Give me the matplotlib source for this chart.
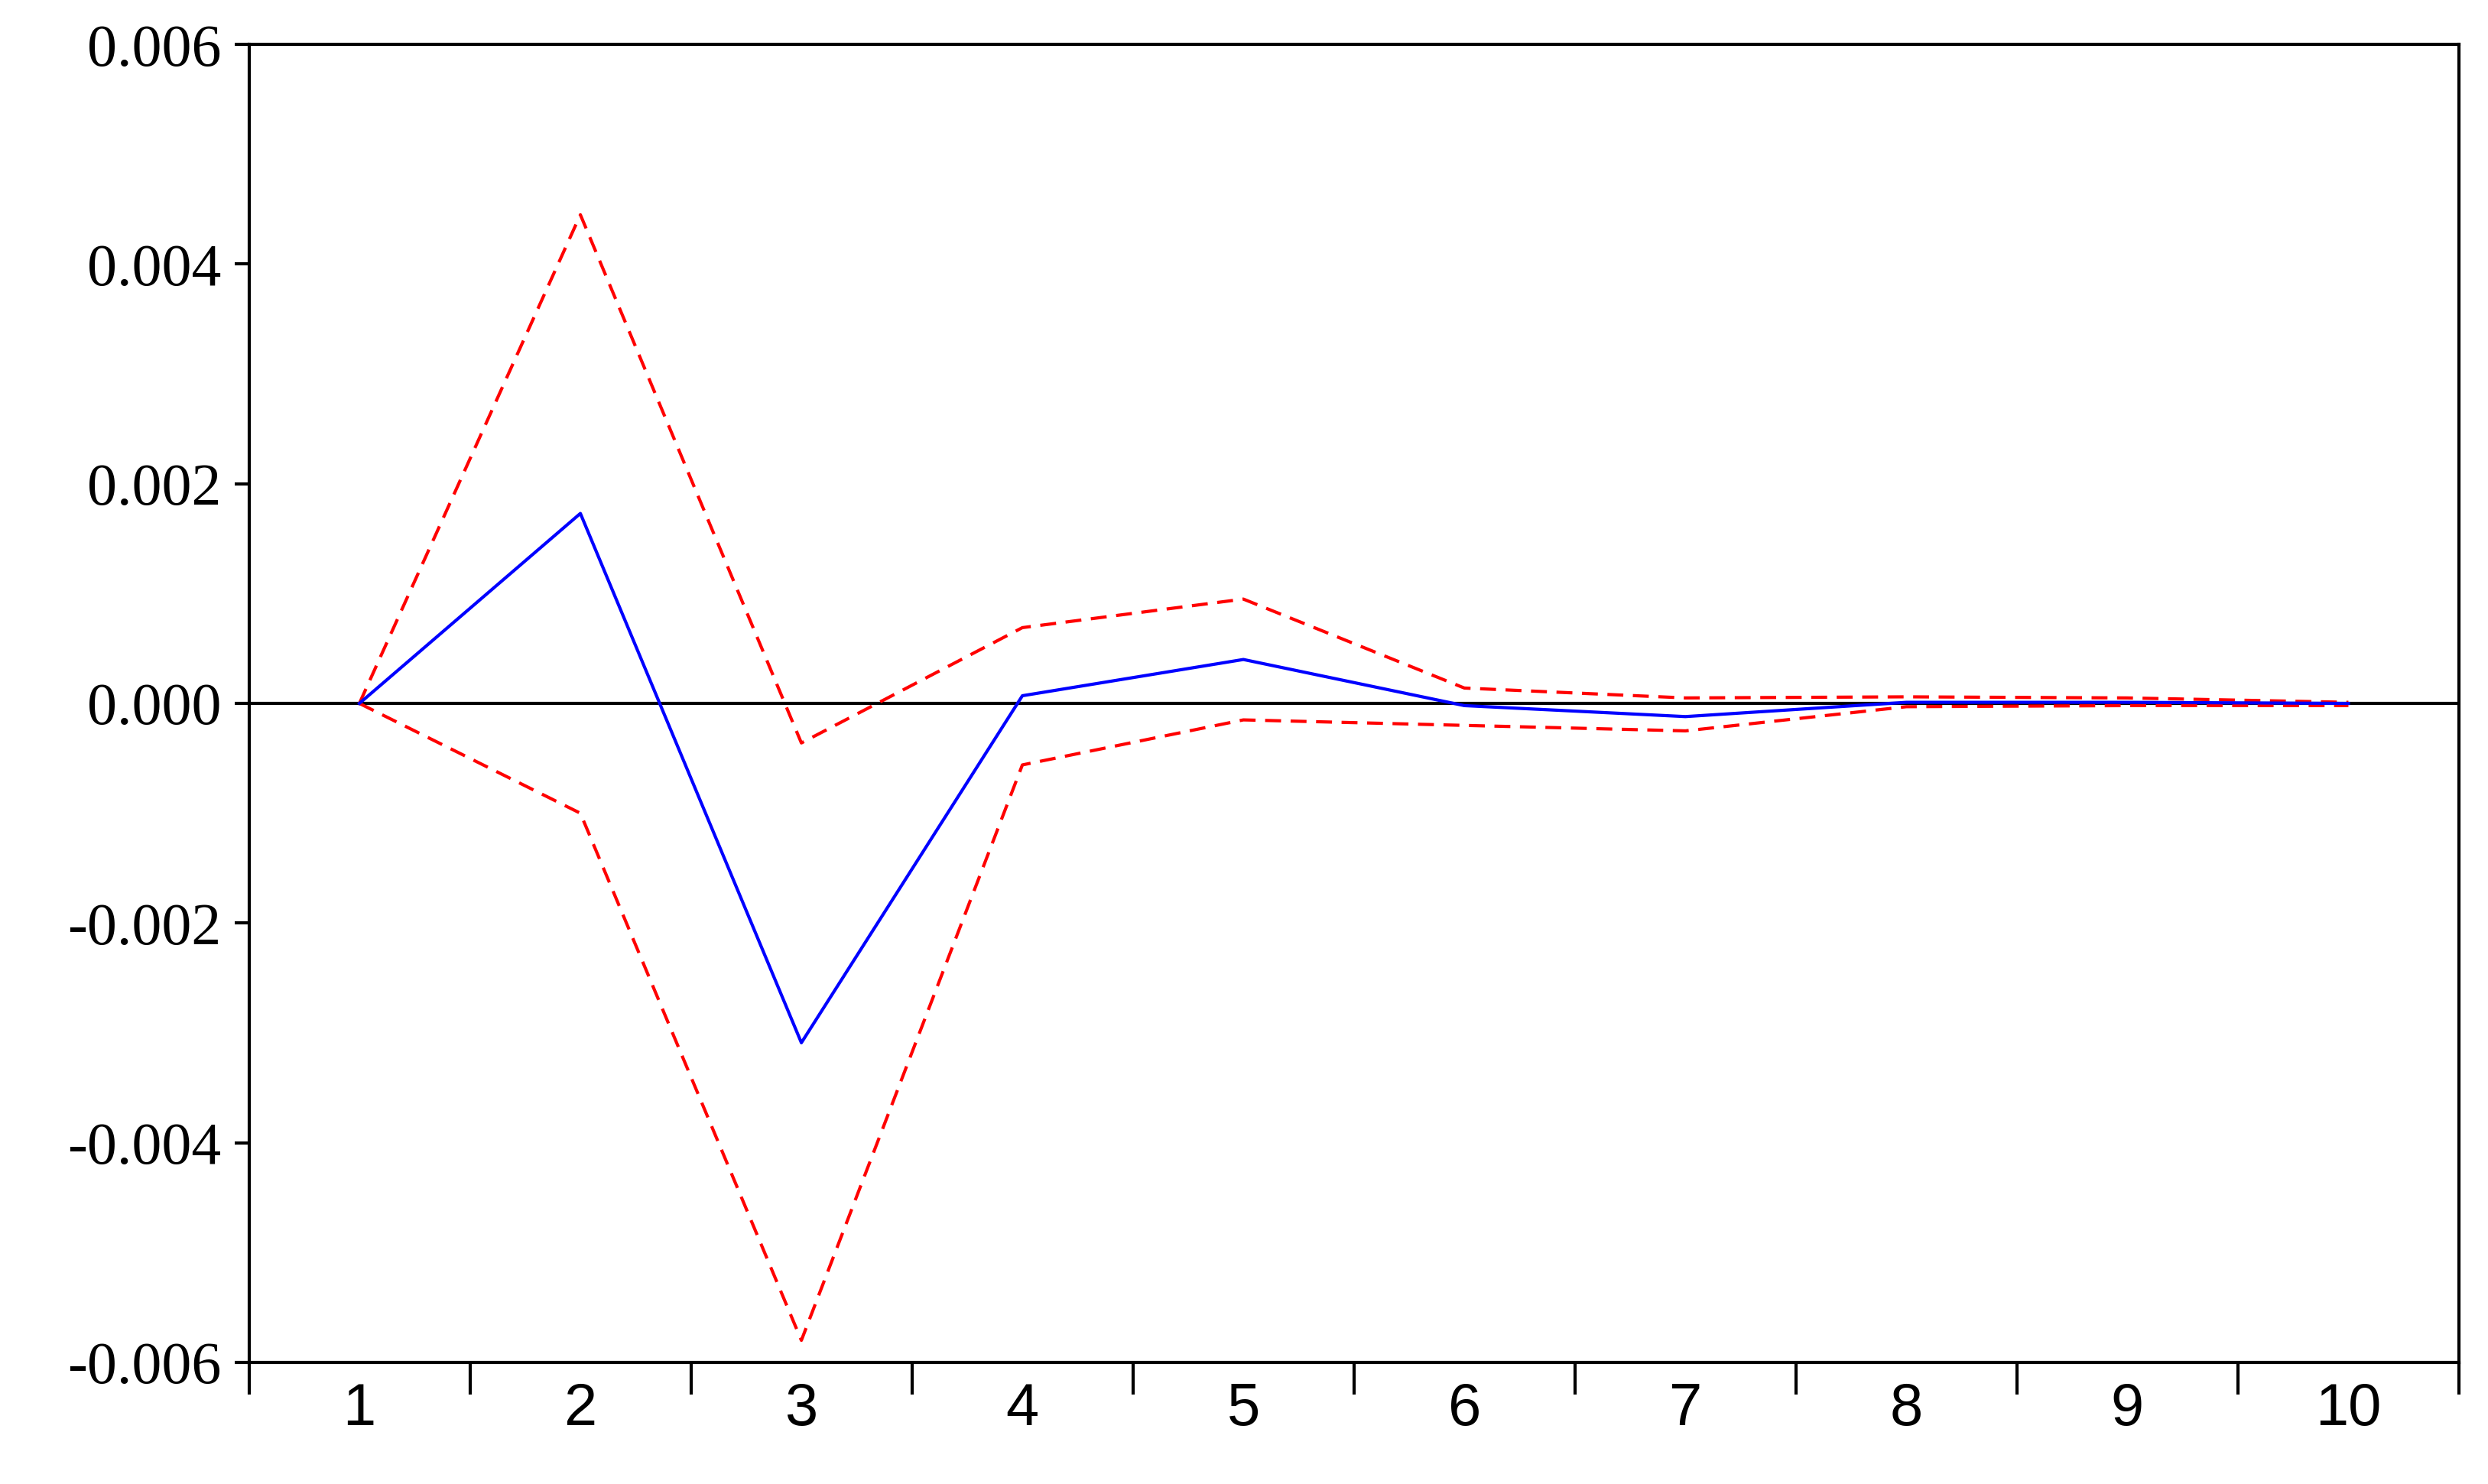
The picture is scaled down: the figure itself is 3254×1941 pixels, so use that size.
import matplotlib.pyplot as plt
import numpy as np

periods = [1, 2, 3, 4, 5, 6, 7, 8, 9, 10]
response = [0.0, 0.00173, -0.00309, 0.00007, 0.00040, -0.00002, -0.00012, 0.00001, 0.00001, 0.0]
upper = [0.0, 0.00445, -0.00036, 0.00069, 0.00095, 0.00014, 0.00005, 0.00006, 0.00005, 0.00001]
lower = [0.0, -0.00100, -0.00580, -0.00056, -0.00015, -0.00020, -0.00025, -0.00003, -0.00002, -0.00002]
y_ticks = [-0.006, -0.004, -0.002, 0.000, 0.002, 0.004, 0.006]

plt.rcParams['font.family'] = ['Liberation Serif', 'DejaVu Serif']

fig = plt.figure(figsize=(32.55, 19.41), dpi=100)
ax = fig.add_axes([0.100, 0.082, 0.888, 0.888])

ax.axhline(0, color='black', lw=3)
ax.plot(periods, upper, color='red', ls=(0, (5, 3)), lw=3)
ax.plot(periods, lower, color='red', ls=(0, (5, 3)), lw=3)
ax.plot(periods, response, color='blue', lw=3)

ax.set_xlim(0.5, 10.5)
ax.set_ylim(-0.006, 0.006)
ax.set_yticks(y_ticks)
ax.set_yticklabels([f"{v:.3f}" for v in y_ticks], fontsize=56)

# x ticks at category boundaries, labels at centres
ax.set_xticks(np.arange(0.5, 11, 1))
ax.set_xticklabels([])
ax.set_xticks(periods, minor=True)
ax.set_xticklabels([str(p) for p in periods], minor=True, fontsize=56,
                   family=['Liberation Sans', 'DejaVu Sans'])
ax.tick_params(axis='x', which='major', length=30, width=3, direction='out')
ax.tick_params(axis='x', which='minor', length=0, pad=18)
ax.tick_params(axis='y', length=14, width=3, direction='out', pad=12)

for s in ax.spines.values():
    s.set_linewidth(3)

fig.savefig('out.png', dpi=100)
